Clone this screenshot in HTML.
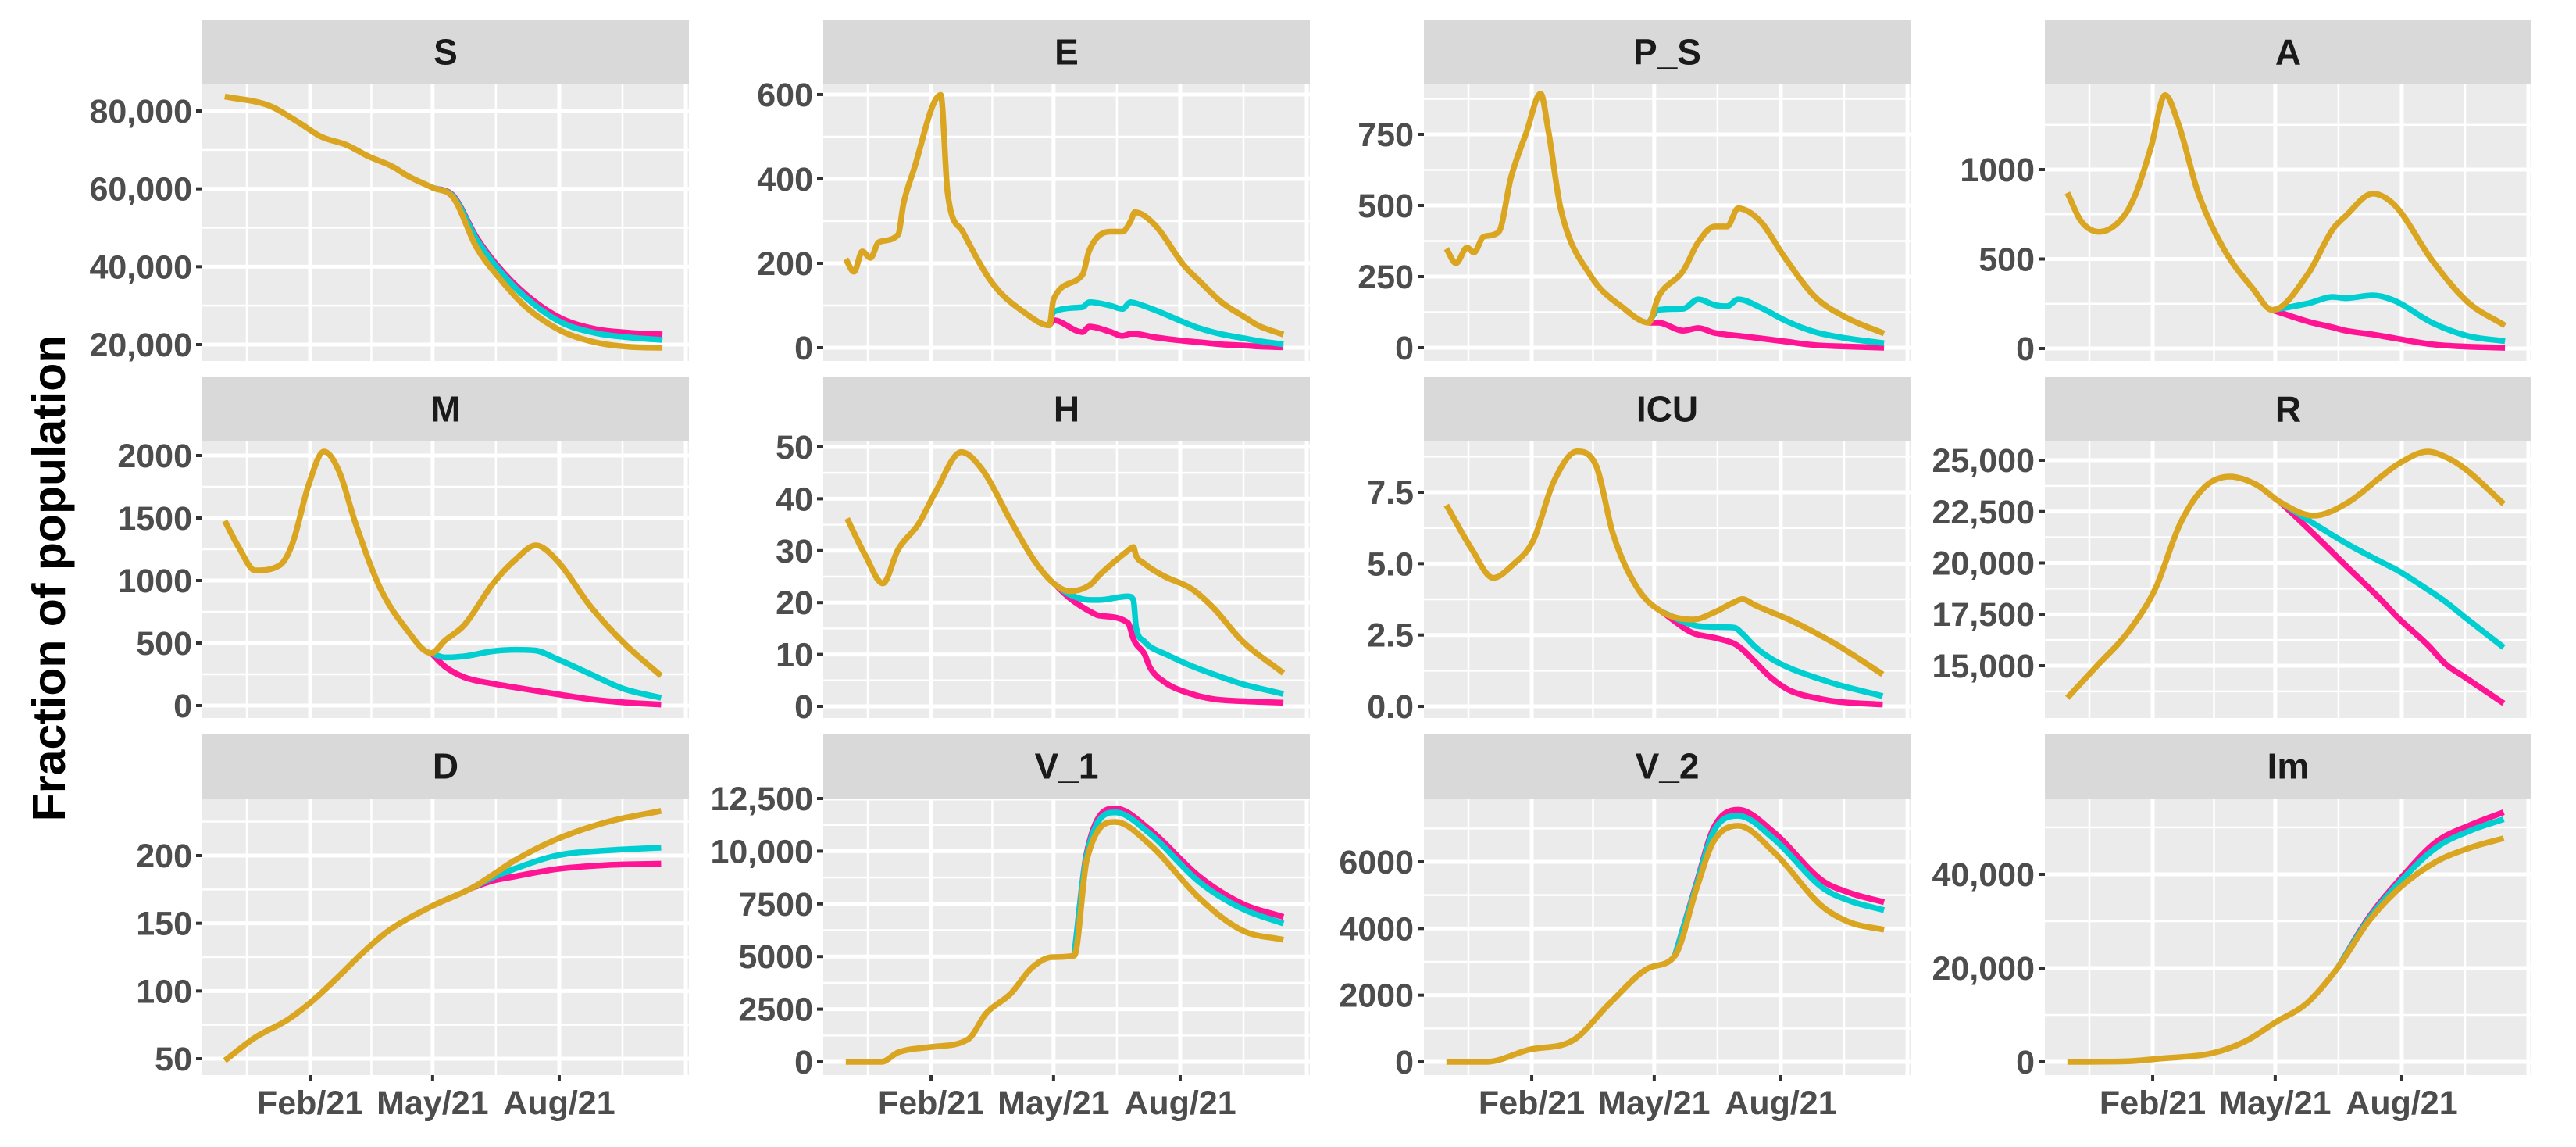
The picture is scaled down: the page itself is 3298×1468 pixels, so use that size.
<!DOCTYPE html>
<html>
<head>
<meta charset="utf-8">
<style>
  html,body{margin:0;padding:0;background:#fff;}
  svg{display:block;}
  text{font-family:"Liberation Sans",Arial,sans-serif;font-weight:bold;}
</style>
</head>
<body>
<svg id="chart" width="3298" height="1468" viewBox="0 0 3298 1468" xmlns="http://www.w3.org/2000/svg">
  <rect width="3298" height="1468" fill="#ffffff"/>
  <text x="0" y="0" transform="translate(83,740) rotate(-90)" text-anchor="middle" font-size="59" fill="#000">Fraction of population</text>
</svg>
<script>
// ---- shared date axis (days since 1 Dec 2020) ----
const xMajorDays = [62, 151, 243, 335];
const xMinorDays = [16, 106.5, 197, 289];
const xTickDays = [62, 151, 243];
const xTickLabels = ['Feb/21', 'May/21', 'Aug/21'];

// ---- S ----
const S_days = [0,32,54,70,89,104,122,133,151,166,183,198,219,244,269,295,318];
const S_gold = [83700,81400,77000,73400,71200,68400,65700,63300,60300,57700,44900,37700,29600,23600,20600,19400,19200];
const S_cyan = [null,null,null,null,null,null,null,null,60300,58000,47000,39700,32000,25800,23000,21800,21200];
const S_pink = [null,null,null,null,null,null,null,null,60300,58200,47500,40300,32800,26800,24000,23000,22600];
const S_ticks = [20000,40000,60000,80000];
const S_tickLabels = ['20,000','40,000','60,000','80,000'];

// ---- E ----
const E_days = [0,6,12,18,24,38,42,49,69,74,85,107,130,148,151,172,177,192,201,207,210,224,246,257,273,290,300,318];
const E_gold = [210,180,228,213,250,268,342,417,599,367,275,151,83,53,115,173,231,275,275,300,321,293,194,158,108,72,52,31];
const E_cyan = [null,null,null,null,null,null,null,null,null,null,null,null,null,53,85,96,108,100,92,108,106,90,60,46,32,22,16,8];
const E_pink = [null,null,null,null,null,null,null,null,null,null,null,null,null,53,65,37,50,38,28,33,33,25,16,13,8,5,3,1];
const E_ticks = [0,200,400,600];
const E_tickLabels = ['0','200','400','600'];

// ---- P_S ----
const PS_days = [0,7,15,20,27,38,47,58,68.5,74,83,105,128,147,154,172,183,195,204,212,228,246,268,291,318];
const PS_gold = [348,297,352,335,390,407,600,755,893,765,490,252,142,88,178,270,371,426,426,490,445,316,178,105,50];
const PS_cyan = [null,null,null,null,null,null,null,null,null,null,null,null,null,88,133,137,170,150,146,170,142,96,55,33,16];
const PS_pink = [null,null,null,null,null,null,null,null,null,null,null,null,null,88,88,60,69,52,46,42,33,22,9,4,0];
const PS_ticks = [0,250,500,750];
const PS_tickLabels = ['0','250','500','750'];

// ---- A ----
const A_days = [0,10,23,41,50,61,71,81,95,113,135,149,175,193,202,222,238,265,291,318];
const A_gold = [870,712,652,739,870,1132,1416,1249,870,565,332,215,419,668,739,865,799,493,259,128];
const A_cyan = [null,null,null,null,null,null,null,null,null,null,null,215,252,288,281,297,266,144,70,41];
const A_pink = [null,null,null,null,null,null,null,null,null,null,null,215,150,118,100,78,57,23,10,4];
const A_ticks = [0,500,1000];
const A_tickLabels = ['0','500','1000'];

// ---- M ----
const M_days = [0,10,22,40,49,61,72,83,95,113,131,150,160,174,195,211,226,241,266,290,317];
const M_gold = [1477,1269,1081,1123,1290,1769,2031,1875,1456,937,625,420,520,644,977,1165,1281,1165,789,500,237];
const M_cyan = [null,null,null,null,null,null,null,null,null,null,null,420,385,394,435,446,440,375,250,133,62];
const M_pink = [null,null,null,null,null,null,null,null,null,null,null,420,312,227,175,145,118,92,50,25,8];
const M_ticks = [0,500,1000,1500,2000];
const M_tickLabels = ['0','500','1000','1500','2000'];

// ---- H ----
const H_days = [1,14,27,38,53,65,84,99,120,138,152,163,178,184,205,209,211,217,221,232,251,267,288,318];
const H_gold = [36.2,29.2,23.7,30.2,35.2,41.2,49,45.7,35.7,27.7,23.5,22.2,23.5,25.2,30,30.7,29,27.5,26.7,25,22.7,19,12.6,6.4];
const H_cyan = [null,null,null,null,null,null,null,null,null,null,23.5,21.5,20.5,20.5,21.2,20.5,15.2,12.5,11.5,10.1,7.8,6.2,4.3,2.4];
const H_pink = [null,null,null,null,null,null,null,null,null,null,23.5,20.8,18.2,17.5,16.1,13,12,10.1,7.5,4.6,2.4,1.4,1,0.7];
const H_ticks = [0,10,20,30,40,50];
const H_tickLabels = ['0','10','20','30','40','50'];

// ---- ICU ----
const ICU_days = [0,18.5,34,48,63,78,95,109,121,139,157,179,195,209,215,224,236,249,273,285,317];
const ICU_gold = [7.05,5.5,4.5,4.95,5.8,7.87,8.93,8.4,6.05,4.13,3.3,3.04,3.3,3.65,3.76,3.55,3.3,3.04,2.45,2.12,1.12];
const ICU_cyan = [null,null,null,null,null,null,null,null,null,null,3.3,2.85,2.78,2.76,2.55,2.1,1.67,1.35,0.93,0.75,0.36];
const ICU_pink = [null,null,null,null,null,null,null,null,null,null,3.3,2.57,2.4,2.2,2.0,1.57,1.0,0.57,0.25,0.16,0.06];
const ICU_ticks = [0,2.5,5,7.5];
const ICU_tickLabels = ['0.0','2.5','5.0','7.5'];

// ---- R ----
const R_days = [0,21,45,64,82,100,118,137,155,179,204,228,240,262,275,289,317];
const R_gold = [13433,14955,16717,18760,21918,23706,24200,23820,22945,22300,22945,24200,24800,25418,25150,24580,22870];
const R_cyan = [null,null,null,null,null,null,null,null,22945,21918,20902,20050,19635,18700,18100,17350,15890];
const R_pink = [null,null,null,null,null,null,null,null,22945,21412,19760,18200,17350,16000,15067,14433,13166];
const R_ticks = [15000,17500,20000,22500,25000];
const R_tickLabels = ['15,000','17,500','20,000','22,500','25,000'];

// ---- D ----
const D_days = [0,21.5,46,64,83,101,119,150,180,195,210,241,278,317];
const D_gold = [48.6,65.3,79,93,111,129,144.5,162.4,176.3,186,196,212,224.8,233];
const D_cyan = [null,null,null,null,null,null,null,null,176.3,184,190,200,203.8,205.8];
const D_pink = [null,null,null,null,null,null,null,null,176.3,181.5,184.4,190,193,194];
const D_ticks = [50,100,150,200];
const D_tickLabels = ['50','100','150','200'];

// ---- V_1 ----
const V1_days = [0,26,38,62,89,102,120,135,150,166,175,196,221,257,288,318];
const V1_gold = [0,0,445,705,1075,2300,3245,4450,4970,5040,9547,11386,10310,7767,6238,5793];
const V1_cyan = [null,null,null,null,null,null,null,null,null,5040,9800,11840,10830,8530,7270,6565];
const V1_pink = [null,null,null,null,null,null,null,null,null,5040,9900,12030,11016,8790,7510,6877];
const V1_ticks = [0,2500,5000,7500,10000,12500];
const V1_tickLabels = ['0','2500','5000','7500','10,000','12,500'];

// ---- V_2 ----
const V2_days = [0,29,60,92,119,147,166,182,194,212,238,273,293,318];
const V2_gold = [0,0,363,645,1770,2814,3180,5230,6600,7080,6285,4667,4186,3963];
const V2_cyan = [null,null,null,null,null,null,3180,5350,6900,7380,6683,5230,4830,4550];
const V2_pink = [null,null,null,null,null,null,3180,5400,7000,7560,6880,5440,5070,4790];
const V2_ticks = [0,2000,4000,6000];
const V2_tickLabels = ['0','2000','4000','6000'];

// ---- Im ----
const Im_days = [0,42,68,106,129,152,174,197,219,242,268,293,317];
const Im_gold = [0,100,700,1900,4330,8560,12500,20300,30000,37250,42700,45700,47700];
const Im_cyan = [null,null,null,null,null,null,null,20300,30500,38500,45700,49350,51750];
const Im_pink = [null,null,null,null,null,null,null,20300,30800,39070,46900,50540,53250];
const Im_ticks = [0,20000,40000];
const Im_tickLabels = ['0','20,000','40,000'];

// ---- layout ----
const SVGNS = 'http://www.w3.org/2000/svg';
const svg = document.getElementById('chart');
const colLeft = [259, 1054, 1823, 2618];
const rowTop = [25, 482, 939];
const PW = 623, STRIP = 83, PH = 354;
const X0 = 28.8, XK = 1.762; // px offset at day 0 and px per day
const COLORS = {pink:'#FF1493', cyan:'#00CED1', gold:'#DAA520'};

const panels = [
  {id:'S', title:'S', c:0, r:0, days:S_days, gold:S_gold, cyan:S_cyan, pink:S_pink, ticks:S_ticks, labels:S_tickLabels, dom:[15786,86823]},
  {id:'E', title:'E', c:1, r:0, days:E_days, gold:E_gold, cyan:E_cyan, pink:E_pink, ticks:E_ticks, labels:E_tickLabels, dom:[-31.5,624]},
  {id:'P_S', title:'P_S', c:2, r:0, days:PS_days, gold:PS_gold, cyan:PS_cyan, pink:PS_pink, ticks:PS_ticks, labels:PS_tickLabels, dom:[-46.7,925.8]},
  {id:'A', title:'A', c:3, r:0, days:A_days, gold:A_gold, cyan:A_cyan, pink:A_pink, ticks:A_ticks, labels:A_tickLabels, dom:[-69.9,1476]},
  {id:'M', title:'M', c:0, r:1, days:M_days, gold:M_gold, cyan:M_cyan, pink:M_pink, ticks:M_ticks, labels:M_tickLabels, dom:[-100,2112.5]},
  {id:'H', title:'H', c:1, r:1, days:H_days, gold:H_gold, cyan:H_cyan, pink:H_pink, ticks:H_ticks, labels:H_tickLabels, dom:[-2.26,51.05]},
  {id:'ICU', title:'ICU', c:2, r:1, days:ICU_days, gold:ICU_gold, cyan:ICU_cyan, pink:ICU_pink, ticks:ICU_ticks, labels:ICU_tickLabels, dom:[-0.41,9.28]},
  {id:'R', title:'R', c:3, r:1, days:R_days, gold:R_gold, cyan:R_cyan, pink:R_pink, ticks:R_ticks, labels:R_tickLabels, dom:[12452,25913]},
  {id:'D', title:'D', c:0, r:2, days:D_days, gold:D_gold, cyan:D_cyan, pink:D_pink, ticks:D_ticks, labels:D_tickLabels, dom:[37.9,242.1]},
  {id:'V_1', title:'V_1', c:1, r:2, days:V1_days, gold:V1_gold, cyan:V1_cyan, pink:V1_pink, ticks:V1_ticks, labels:V1_tickLabels, dom:[-630,12500]},
  {id:'V_2', title:'V_2', c:2, r:2, days:V2_days, gold:V2_gold, cyan:V2_cyan, pink:V2_pink, ticks:V2_ticks, labels:V2_tickLabels, dom:[-398,7898]},
  {id:'Im', title:'Im', c:3, r:2, days:Im_days, gold:Im_gold, cyan:Im_cyan, pink:Im_pink, ticks:Im_ticks, labels:Im_tickLabels, dom:[-2833,56167]}
];

function mk(tag, attrs, parent){
  const e = document.createElementNS(SVGNS, tag);
  for (const k in attrs) e.setAttribute(k, attrs[k]);
  (parent||svg).appendChild(e);
  return e;
}

// monotone cubic (Fritsch–Carlson) path through points
function monotonePath(pts){
  const n = pts.length;
  if (n < 2) return '';
  if (n === 2) return 'M'+pts[0][0]+','+pts[0][1]+'L'+pts[1][0]+','+pts[1][1];
  const dx=[], dy=[], m=[];
  for (let i=0;i<n-1;i++){ dx.push(pts[i+1][0]-pts[i][0]); dy.push(pts[i+1][1]-pts[i][1]); m.push(dy[i]/dx[i]); }
  const t=[m[0]];
  for (let i=1;i<n-1;i++){ t.push(m[i-1]*m[i]<=0 ? 0 : (m[i-1]+m[i])/2); }
  t.push(m[n-2]);
  for (let i=0;i<n-1;i++){
    if (m[i]===0){ t[i]=0; t[i+1]=0; continue; }
    const a=t[i]/m[i], b=t[i+1]/m[i], s=a*a+b*b;
    if (s>9){ const tau=3/Math.sqrt(s); t[i]=tau*a*m[i]; t[i+1]=tau*b*m[i]; }
  }
  let d='M'+pts[0][0].toFixed(1)+','+pts[0][1].toFixed(1);
  for (let i=0;i<n-1;i++){
    const h=dx[i]/3;
    d+='C'+(pts[i][0]+h).toFixed(1)+','+(pts[i][1]+t[i]*h).toFixed(1)+' '+(pts[i+1][0]-h).toFixed(1)+','+(pts[i+1][1]-t[i+1]*h).toFixed(1)+' '+pts[i+1][0].toFixed(1)+','+pts[i+1][1].toFixed(1);
  }
  return d;
}

panels.forEach(p => {
  const L = colLeft[p.c], T = rowTop[p.r], PT = T + STRIP, PB = PT + PH;
  const g = mk('g', {});
  
  
  const xs = d => L + X0 + d * XK;
  const ys = v => PB - (v - p.dom[0]) / (p.dom[1] - p.dom[0]) * PH;

  // strip
  const strip = mk('rect', {x:L, y:T, width:PW, height:STRIP, fill:'#D9D9D9'}, g);
  
  
  const st = mk('text', {x:L+PW/2, y:T+STRIP/2+16, 'text-anchor':'middle', 'font-size':46, fill:'#1A1A1A'}, g);
  st.textContent = p.title;
  
  

  // panel background
  const bg = mk('rect', {x:L, y:PT, width:PW, height:PH, fill:'#EBEBEB'}, g);
  
  

  const clipId = 'clip-' + p.id;
  const cp = mk('clipPath', {id:clipId}, g);
  mk('rect', {x:L, y:PT, width:PW, height:PH}, cp);
  const grid = mk('g', {'clip-path':'url(#'+clipId+')'}, g);
  
  

  // horizontal minor gridlines
  const step = p.ticks[1] - p.ticks[0];
  for (let v = p.ticks[0] - step/2; v <= p.ticks[p.ticks.length-1] + step; v += step){
    const y = ys(v);
    if (y > PT && y < PB) mk('line', {x1:L, x2:L+PW, y1:y, y2:y, stroke:'#fff', 'stroke-width':2.5}, grid);
  }
  // vertical minor gridlines
  xMinorDays.forEach(d => { const x = xs(d); mk('line', {x1:x, x2:x, y1:PT, y2:PB, stroke:'#fff', 'stroke-width':2.5}, grid); });
  // major gridlines
  p.ticks.forEach(v => { const y = ys(v); mk('line', {x1:L, x2:L+PW, y1:y, y2:y, stroke:'#fff', 'stroke-width':5}, grid); });
  xMajorDays.forEach(d => { const x = xs(d); mk('line', {x1:x, x2:x, y1:PT, y2:PB, stroke:'#fff', 'stroke-width':5}, grid); });

  // series lines
  const lines = mk('g', {'clip-path':'url(#'+clipId+')'}, g);
  ['pink','cyan','gold'].forEach(key => {
    const vals = p[key];
    const pts = [];
    vals.forEach((v,i) => { if (v !== null) pts.push([xs(p.days[i]), ys(v)]); });
    const path = mk('path', {d:monotonePath(pts), fill:'none', stroke:COLORS[key], 'stroke-width':7.5, 'stroke-linejoin':'round', 'stroke-linecap':'butt'}, lines);
    
    
  });

  // y-axis ticks and labels
  const yax = mk('g', {}, g);
  
  
  p.ticks.forEach((v,i) => {
    const y = ys(v);
    mk('line', {x1:L-8, x2:L, y1:y, y2:y, stroke:'#333', 'stroke-width':4}, yax);
    const t = mk('text', {x:L-13, y:y+15, 'text-anchor':'end', 'font-size':43, fill:'#4D4D4D'}, yax);
    t.textContent = p.labels[i];
    
    
  });

  // x-axis on bottom row
  if (p.r === 2){
    const xax = mk('g', {}, g);
    
    
    xTickDays.forEach((d,i) => {
      const x = xs(d);
      mk('line', {x1:x, x2:x, y1:PB, y2:PB+8, stroke:'#333', 'stroke-width':4}, xax);
      const t = mk('text', {x:x, y:1426, 'text-anchor':'middle', 'font-size':43, fill:'#4D4D4D'}, xax);
      t.textContent = xTickLabels[i];
      
      
    });
  }
});
</script>
</body>
</html>
